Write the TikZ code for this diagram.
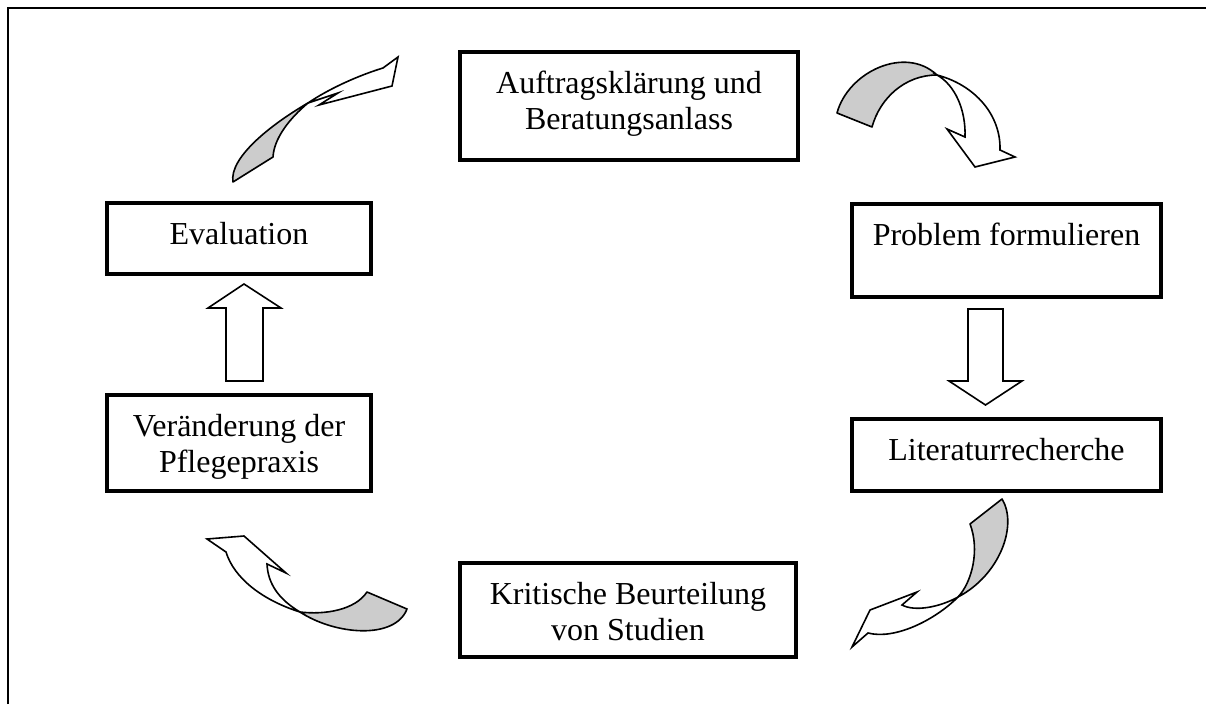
\documentclass[tikz,border=0pt]{standalone}
\usepackage{fontspec}
\setmainfont{Liberation Serif}
\definecolor{arrowgray}{HTML}{CCCCCC}
% box contents: text set from the top of a fixed-size box
\newcommand{\stagetext}[3]{\parbox[c][#2][t]{#1}{\centering\rule{0pt}{41pt}#3}}
\begin{document}
\begin{tikzpicture}[x=1pt,y=-1pt,
  stage/.style={draw, line width=3.8pt, inner sep=0pt, outer sep=0pt, rectangle,
                font=\fontsize{32}{36.5}\selectfont},
  blockarrow/.style={draw, line width=1.6pt, fill=white, line join=miter},
  backside/.style={draw, line width=1.6pt, fill=arrowgray, line join=round},
  frameline/.style={draw, line width=2pt}]
\useasboundingbox (0,0) rectangle (1206,704);

% outer frame (only the left and top edges lie inside the page)
\draw[frameline] (8,704) -- (8,8) -- (1206,8);

% process stages
\node[stage] (auftrag)    at (629,106)    {\stagetext{338pt}{108pt}{Auftragsklärung und\\Beratungsanlass}};
\node[stage] (problem)    at (1006.5,250.5) {\stagetext{309pt}{93pt}{Problem formulieren}};
\node[stage] (literatur)  at (1006.5,455) {\stagetext{309pt}{72pt}{Literaturrecherche}};
\node[stage] (kritik)     at (628,610)    {\stagetext{336pt}{94pt}{Kritische Beurteilung\\von Studien}};
\node[stage] (evaluation) at (239,238.5)  {\stagetext{264pt}{71pt}{Evaluation}};
\node[stage] (praxis)     at (239,443)    {\stagetext{264pt}{96pt}{Veränderung der\\Pflegepraxis}};

% straight block arrows
\draw[blockarrow] (968,309) -- (1003,309) -- (1003,381) -- (1022,381) -- (985.5,405)
  -- (949,381) -- (968,381) -- cycle;
\draw[blockarrow] (226,381) -- (263,381) -- (263,308) -- (281,308) -- (244,284)
  -- (208,308) -- (226,308) -- cycle;

% curved ribbon arrow: Evaluation -> Auftragsklaerung
\draw[backside] (233,182) .. controls (229,158) and (270,125) .. (308,103)
  .. controls (290,118) and (274,138) .. (273,157) -- cycle;
\draw[blockarrow] (308,103) .. controls (330,88) and (360,75) .. (383,68)
  -- (398,57) -- (392,86) -- (319,105) -- (338,93) -- cycle;

% curved ribbon arrow: Auftragsklaerung -> Problem formulieren
\draw[backside] (837,113) .. controls (848,72) and (905,45) .. (937,75)
  .. controls (905,75) and (880,98) .. (872,127) -- cycle;
\draw[blockarrow] (937,75) .. controls (975,85) and (1001,115) .. (1000,150)
  -- (1015,157) -- (975,167) -- (947,129) -- (965,137)
  .. controls (966,110) and (955,85) .. (937,75) -- cycle;

% curved ribbon arrow: Literaturrecherche -> Kritische Beurteilung
\draw[backside] (1002,499) .. controls (1018,525) and (1000,575) .. (958,597)
  .. controls (972,582) and (980,550) .. (970,524) -- cycle;
\draw[blockarrow] (958,597) .. controls (940,607) and (915,612) .. (902,605)
  -- (917,592) -- (870,610) -- (852,647) -- (868,633)
  .. controls (895,640) and (935,620) .. (958,597) -- cycle;

% curved ribbon arrow: Kritische Beurteilung -> Veraenderung der Pflegepraxis
\draw[backside] (367,592) .. controls (355,610) and (325,615) .. (300,612)
  .. controls (335,635) and (395,640) .. (407,609) -- cycle;
\draw[blockarrow] (300,612) .. controls (280,600) and (268,585) .. (267,564)
  -- (286,573) -- (244,536) -- (207,539) -- (226,552)
  .. controls (234,578) and (262,600) .. (300,612) -- cycle;
\end{tikzpicture}
\end{document}
